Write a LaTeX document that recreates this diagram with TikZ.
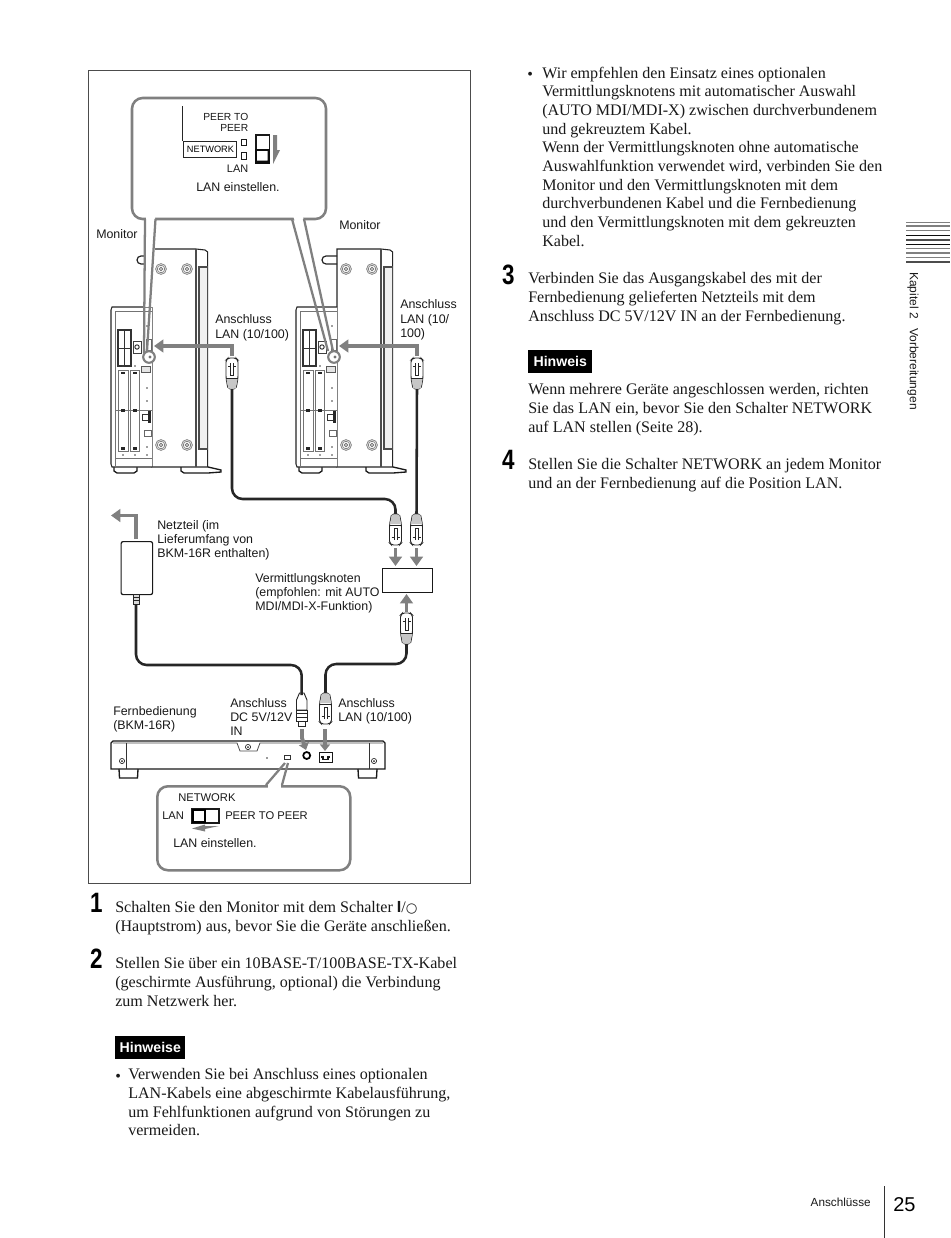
\documentclass[tikz,border=0pt]{standalone}
\usepackage{fontspec}
\usetikzlibrary{arrows.meta}
\setmainfont{Liberation Serif}
\setsansfont{Liberation Sans}
\newfontfamily\symfont{DejaVu Sans}
\newcommand{\bodyfont}{\fontsize{12.05}{14}\selectfont\rmfamily}
\newcommand{\lblfont}{\fontsize{9.3}{10.75}\selectfont\sffamily}
\colorlet{cgray}{black!50}
\tikzset{
  x=0.75pt,y=-0.75pt,
  para/.style={anchor=north west,inner sep=0pt,align=left,font=\bodyfont,text=black!90,execute at begin node=\strut},
  lbl/.style={anchor=north west,inner sep=0pt,align=left,font=\lblfont,text=black!90,execute at begin node=\strut},
  lblr/.style={lbl,anchor=north east,align=right},
  smalllbl/.style={lbl,font=\fontsize{8.4}{10.75}\selectfont\sffamily},
  stepnum/.style={anchor=north west,inner sep=0pt,font=\fontsize{21}{21}\selectfont\sffamily\bfseries,xscale=.8},
  notebox/.style={anchor=north west,fill=black,text=white,inner sep=0pt,minimum height=23*0.75pt,font=\fontsize{10.6}{12}\selectfont\sffamily\bfseries},
  cable/.style={line width=1.9pt,black!85,rounded corners=8pt},
  callout/.style={draw=cgray,line width=1.9pt,rounded corners=8pt,fill=white,inner sep=0pt},
  tail/.style={draw=cgray,line width=1.7pt},
  garrow/.style={draw=cgray,line width=2.9pt,-{Triangle[length=7pt,width=9.5pt]}},
  rjplug/.pic={
    \draw[black!85,line width=.7pt,fill=white,rounded corners=1.5pt] (-6,20)--(-6,2)--(-4,0)--(4,0)--(6,2)--(6,20)--(4,31)--(-4,31)--cycle;
    \fill[black!22] (-5.6,21)--(5.6,21)--(3.7,30.5)--(-3.7,30.5)--cycle;
    \draw[black!85,line width=.5pt] (-6,20)--(6,20);
    \draw[black!85,line width=.7pt,fill=white] (-1.5,5)--(-1.5,17)--(1.5,17)--(1.5,5);
    \draw[black!85,line width=.7pt] (-4,8)--(-1.5,8) (1.5,8)--(4,8);
    \coordinate (-tail) at (0,31);
    \coordinate (-tip) at (0,0);
  },
  screw/.pic={
    \draw[black!55,line width=.5pt] (0,0) circle (5.4) circle (3.8);
    \draw[black!55,line width=.7pt] (0,0) circle (1.8);
  },
  monitor/.pic={
    % body
    \draw[black!85,line width=.8pt,fill=white] (152,249)--(196,249)--(205,250)--(207.7,252)--(207.7,467)--(152,467)--cycle;
    \draw[black!70,line width=1pt] (196,249)--(196,467);
    \draw[black!70,line width=.8pt,fill=black!6] (199,267)--(207.7,267)--(207.7,449)--(199,449)--cycle;
    \draw[black!85,line width=.9pt,rounded corners=3pt] (152,256)--(137,256)--(137,264)--(152,264);
    \pic at (161,269) {screw}; \pic at (187,269) {screw};
    \pic at (161,445) {screw}; \pic at (187,445) {screw};
    % foot
    \draw[black!90,line width=1pt] (181,467)--(181,471)--(184,473)--(208,473)--(221,472)--(221,470)--(208,467);
    \draw[black!90,line width=1pt] (114,467)--(114,471)--(117,473)--(134,473)--(137,471)--(137,467);
    % back panel
    \draw[black!85,line width=.8pt,fill=white] (152,307)--(112,307)--(111,310)--(111,464)--(112,467)--(152,467);
    \draw[black!55,line width=.5pt] (115,311)--(152,311) (115,311)--(115,467) (115,458)--(152,458);
    \draw[black!80,line width=.8pt] (118,330) rectangle (131,366);
    \draw[black!80,line width=.6pt] (124.5,330)--(124.5,366) (118,348)--(131,348);
    \draw[black!55,line width=.4pt] (115,410)--(152,410);
    \draw[black!55,line width=.45pt] (118,370) rectangle (128,451) (130,370) rectangle (139,451);
    \foreach \ma in {120.5,132.5}{
      \fill[black!85] (\ma,371.5) rectangle +(4.5,2.5);
      \fill[black!85] (\ma,408.5) rectangle +(4.5,3.5);
      \fill[black!85] (\ma,447) rectangle +(4.5,2.5);
    }
    \draw[black!75,line width=.6pt] (133,341) rectangle (141,353);
    \draw[black!85,line width=.7pt] (137,347) circle (2.2);
    \draw[black!60,line width=.6pt] (146,339) rectangle (151,350);
    \draw[black!65,line width=.6pt,fill=black!10] (141,366) rectangle (150,372);
    \draw[black!80,line width=.7pt] (142,414) rectangle (150,420);
    \fill[black!85] (148,411) rectangle (151,423);
    \draw[black!60,line width=.6pt] (144,430) rectangle (151,436);
    \foreach \xa/\ya in {147/326,147/388,147/401,147/447,147/455,123/366,135/366,123/455,135/455}{
      \fill[black!75] (\xa,\ya) circle (.8);
    }
    \draw[cgray,line width=1.6pt,fill=white] (149,357) circle (5.8);
    \fill[black!55] (150,357) circle (1.6);
  }
}
\begin{document}
\begin{tikzpicture}
\useasboundingbox (0,0) rectangle (950,1238);
\fill[white] (0,0) rectangle (950,1238);
% frame
\draw[black!70,line width=.6pt] (88.5,70) rectangle (470.5,883);

% monitors
\pic (m1) at (0,0) {monitor};
\pic (m2) at (185,0) {monitor};

% top call-out
\fill[white] (145,219)--(156,219)--(153,307)--(144,307)--cycle;
\node[callout,minimum width=194*0.75pt,minimum height=121*0.75pt] (c1) at (229,158.5) {};
\fill[white] (146,217)--(155,217)--(155,222)--(146,222)--cycle (293.5,217)--(303,217)--(304,222)--(295,222)--cycle;
\coordinate (t1a) at (145,219); \coordinate (t1b) at (144,353);
\coordinate (t2a) at (155.5,219); \coordinate (t2b) at (147,351);
\coordinate (t3a) at (292,219); \coordinate (t3b) at (328,351);
\coordinate (t4a) at (304,219); \coordinate (t4b) at (333,351);
\draw[tail] (t1a)--(t1b) (t2a)--(t2b) (t3a)--(t3b) (t4a)--(t4b);
\draw[black!85,line width=.7pt] (182.5,106)--(182.5,141);
\node[draw=black!85,line width=.7pt,inner sep=0pt,minimum width=53.5*0.75pt,minimum height=16*0.75pt,font=\fontsize{6.9}{10}\selectfont\sffamily,anchor=north west] (net1) at (182.5,141) {\,NETWORK};
\node[lblr,font=\fontsize{7.7}{8.25}\selectfont\sffamily] (peer1) at (248.5,113.5) {PEER TO\\PEER};
\node[lblr,font=\fontsize{8.2}{10.2}\selectfont\sffamily] (lan1) at (248.5,163) {LAN};
\node[draw=black!90,line width=.8pt,inner sep=0pt,minimum width=5.5*0.75pt,minimum height=6.5*0.75pt] (sq1) at (244,142.5) {};
\node[draw=black!90,line width=.8pt,inner sep=0pt,minimum width=5.5*0.75pt,minimum height=7*0.75pt] (sq2) at (244,156) {};
\draw[black!90,line width=.9pt] (256,135) rectangle (269.5,163);
\draw[black!95,line width=.9pt] (256,150) rectangle (269.5,163);
\fill[black!95] (256,160.5) rectangle (269.5,163) (267.5,150) rectangle (269.5,163);
\fill[cgray] (273,135) -- (277,135) -- (277,150) -- (280,150) -- (273,164) -- cycle;
\node[lbl,anchor=north] (ls1) at (238,181.5) {LAN einstellen.};

% labels around monitors
\node[lbl] (mon1) at (96,228) {Monitor};
\node[lbl] (mon2) at (339,219) {Monitor};
\node[lbl] (a1) at (215,314.5) {Anschluss\\LAN (10/100)};
\node[lbl] (a2) at (400,299.5) {Anschluss\\LAN (10/\\100)};

% monitor plugs
\pic (p1) at (232,358) {rjplug};
\pic (p2) at (417,358) {rjplug};
\coordinate (port1) at (154,346);
\coordinate (port2) at (339,346);
\draw[garrow,line width=2.6pt] (232,356)--(232,346)--(port1);
\draw[garrow,line width=2.6pt] (417,356)--(417,346)--(port2);

% switch hub and its plugs
\node[draw=black!90,line width=.9pt,inner sep=0pt,anchor=north west,minimum width=50*0.75pt,minimum height=24*0.75pt] (hub) at (382,568) {};
\pic[yscale=-1] (p3) at (395.5,545) {rjplug};
\pic[yscale=-1] (p4) at (416.5,545) {rjplug};
\pic (p5) at (406.5,613) {rjplug};
\draw[cable] (p1-tail) -- (232,499) -- (395.5,499) -- (p3-tail);
\draw[line width=1.9pt,black!85] (p2-tail) -- (p4-tail);
\draw[garrow] (395.5,548)--(395.5,566);
\draw[garrow] (416.5,548)--(416.5,566);
\draw[garrow] (406.5,612)--(406.5,594);
\node[lbl] (hubl) at (255,573) {Vermittlungsknoten\\(empfohlen: mit AUTO\\MDI/MDI-X-Funktion)};

% power supply
\node[draw=black!90,line width=.9pt,rounded corners=1.5pt,inner sep=0pt,anchor=north west,minimum width=31.5*0.75pt,minimum height=53*0.75pt] (psu) at (120.5,541) {};
\draw[garrow] (136,539)--(136,515.5)--(111,515.5);
\node[lbl] (psul) at (157,520) {Netzteil (im\\Lieferumfang von\\BKM-16R enthalten)};
\draw[black!85,line width=.7pt,fill=black!15] (133.5,594) rectangle (139,604);
\draw[black!85,line width=.4pt] (133.5,597)--(139,597) (133.5,600)--(139,600);
\coordinate (psuout) at (136,604);

% DC plug and LAN plug
\coordinate (dctop) at (301.7,695);
\draw[black!85,line width=.7pt,fill=white] (299.5,693)--(304,693)--(307,700)--(307,710)--(296.5,710)--(296.5,700)--cycle;
\draw[black!85,line width=.7pt,fill=white] (296,710) rectangle (307.5,721);
\draw[black!85,line width=.4pt] (296,713.5)--(307.5,713.5) (296,717)--(307.5,717);
\draw[black!85,line width=.7pt,fill=white] (298.5,721) rectangle (305,726);
\pic[yscale=-1] (p6) at (325.5,724) {rjplug};
\draw[cable] (psuout) -- (136,665) -- (301.7,665) -- (dctop);
\draw[cable] (p5-tail) -- (406.5,664) -- (325.5,664) -- (p6-tail);

% remote
\draw[black!90,line width=.9pt,fill=white] (111,743)--(113,741)--(383,741)--(385,743)--(385,769)--(111,769)--cycle;
\draw[black!70,line width=.6pt] (113,743)--(237,743)--(240,751)--(257,751)--(260,743)--(383,743);
\draw[black!80,line width=.6pt] (126,743)--(126,769) (369,743)--(369,769);
\draw[black!90,line width=1pt] (119,769)--(119.5,778)--(137.5,778)--(138,769) (358,769)--(358.5,778)--(376.5,778)--(377,769);
\foreach \xa/\ya in {122/761,374/761,248/747}{
  \draw[black!85,line width=.5pt] (\xa,\ya) circle (2.6);
  \fill[black!85] (\xa,\ya) circle (1);
}
\fill[black!80] (267,758) circle (.8);
\draw[black!80,line width=.6pt] (284.5,755) rectangle (290,759.5);
\node[draw=black,line width=1.3pt,circle,inner sep=0pt,minimum size=7*0.75pt] (dcjack) at (306.7,755.5) {};
\node[draw=black!90,line width=.9pt,inner sep=0pt,anchor=north west,minimum width=13*0.75pt,minimum height=9.5*0.75pt] (rjack) at (319,752) {};
\draw[black!90,line width=.8pt] (321,757)--(323,757)--(323,759.5)--(328,759.5)--(328,757)--(330,757);
\draw[garrow,-{Triangle[length=5pt,width=7.5pt]}] (302,729)--(302,738)--(306,750);
\draw[garrow,-{Triangle[length=5pt,width=7.5pt]}] (325,729)--(325,751);
\node[lbl] (a3) at (230,698) {Anschluss\\DC 5V/12V\\IN};
\node[lbl] (a4) at (338,698) {Anschluss\\LAN (10/100)};
\node[lbl] (remote) at (113,706) {Fernbedienung\\(BKM-16R)};

% bottom call-out
\node[callout,anchor=north west,minimum width=193*0.75pt,minimum height=84*0.75pt] (c2) at (156,785) {};
\fill[white] (268,783) rectangle (281,788);
\coordinate (t5a) at (266,785); \coordinate (t5b) at (285,763);
\coordinate (t6a) at (282,785); \coordinate (t6b) at (288,763);
\draw[tail] (t5a)--(t5b) (t6a)--(t6b);
\node[smalllbl] (net2) at (178,791.5) {NETWORK};
\node[smalllbl] (lan2) at (162,809) {LAN};
\node[smalllbl] (peer2) at (225,809.5) {PEER TO PEER};
\draw[black!90,line width=.9pt] (192,809) rectangle (219,823);
\draw[black,line width=1.7pt] (193,810) rectangle (205,822);
\fill[cgray] (219,826) -- (205,826) -- (205,824.5) -- (192,828.5) -- (205,831.5) -- (205,829) -- cycle;
\node[lbl] (ls2) at (173,837.5) {LAN einstellen.};

% left column text
\node[stepnum] (s1) at (90,893) {1};
\node[para] (t1) at (115,901.5) {Schalten Sie den Monitor mit dem Schalter {\sffamily\bfseries I}/{\symfont\fontsize{10}{10}\selectfont ○}\\(Hauptstrom) aus, bevor Sie die Geräte anschließen.};
\node[stepnum] (s2) at (90,949) {2};
\node[para] (t2) at (115,957.5) {Stellen Sie über ein 10BASE-T/100BASE-TX-Kabel\\(geschirmte Ausführung, optional) die Verbindung\\zum Netzwerk her.};
\node[notebox,minimum width=70*0.75pt] (n1) at (115,1035.5) {Hinweise};
\node[para] (b1) at (115,1068.5) {•};
\node[para] (t3) at (128,1068.5) {Verwenden Sie bei Anschluss eines optionalen\\LAN-Kabels eine abgeschirmte Kabelausführung,\\um Fehlfunktionen aufgrund von Störungen zu\\vermeiden.};

% right column text
\node[para] (b2) at (527,66.5) {•};
\node[para] (t4) at (542,66.5) {Wir empfehlen den Einsatz eines optionalen\\Vermittlungsknotens mit automatischer Auswahl\\(AUTO MDI/MDI-X) zwischen durchverbundenem\\und gekreuztem Kabel.\\Wenn der Vermittlungsknoten ohne automatische\\Auswahlfunktion verwendet wird, verbinden Sie den\\Monitor und den Vermittlungsknoten mit dem\\durchverbundenen Kabel und die Fernbedienung\\und den Vermittlungsknoten mit dem gekreuzten\\Kabel.};
\node[stepnum] (s3) at (502,265) {3};
\node[para] (t5) at (528,272.5) {Verbinden Sie das Ausgangskabel des mit der\\Fernbedienung gelieferten Netzteils mit dem\\Anschluss DC 5V/12V IN an der Fernbedienung.};
\node[notebox,minimum width=64*0.75pt] (n2) at (528,350) {Hinweis};
\node[para] (t6) at (528,383.5) {Wenn mehrere Geräte angeschlossen werden, richten\\Sie das LAN ein, bevor Sie den Schalter NETWORK\\auf LAN stellen (Seite 28).};
\node[stepnum] (s4) at (502,450) {4};
\node[para] (t7) at (528,458.5) {Stellen Sie die Schalter NETWORK an jedem Monitor\\und an der Fernbedienung auf die Position LAN.};

% thumb tab
\foreach \ya/\shade in {222.3/50,226/50,230.7/50,235.3/95,240/70,244.3/95,248.7/50,253/50,257.3/50,262/70}{
  \draw[black!\shade,line width=.9pt] (906,\ya)--(950,\ya);
}
\node[lbl,rotate=-90,anchor=west,execute at begin node={},font=\fontsize{9}{10}\selectfont\sffamily] (tab) at (912.5,272) {Kapitel 2\hspace{7pt}Vorbereitungen};

% footer
\node[lbl,anchor=east,execute at begin node={},font=\fontsize{8.8}{10}\selectfont\sffamily] (foot) at (871,1204) {Anschlüsse};
\draw[black!80,line width=.7pt] (884,1186)--(884,1238);
\node[anchor=west,inner sep=0pt,font=\fontsize{15}{15}\selectfont\sffamily] (pg) at (893,1204.5) {25};
\end{tikzpicture}
\end{document}
